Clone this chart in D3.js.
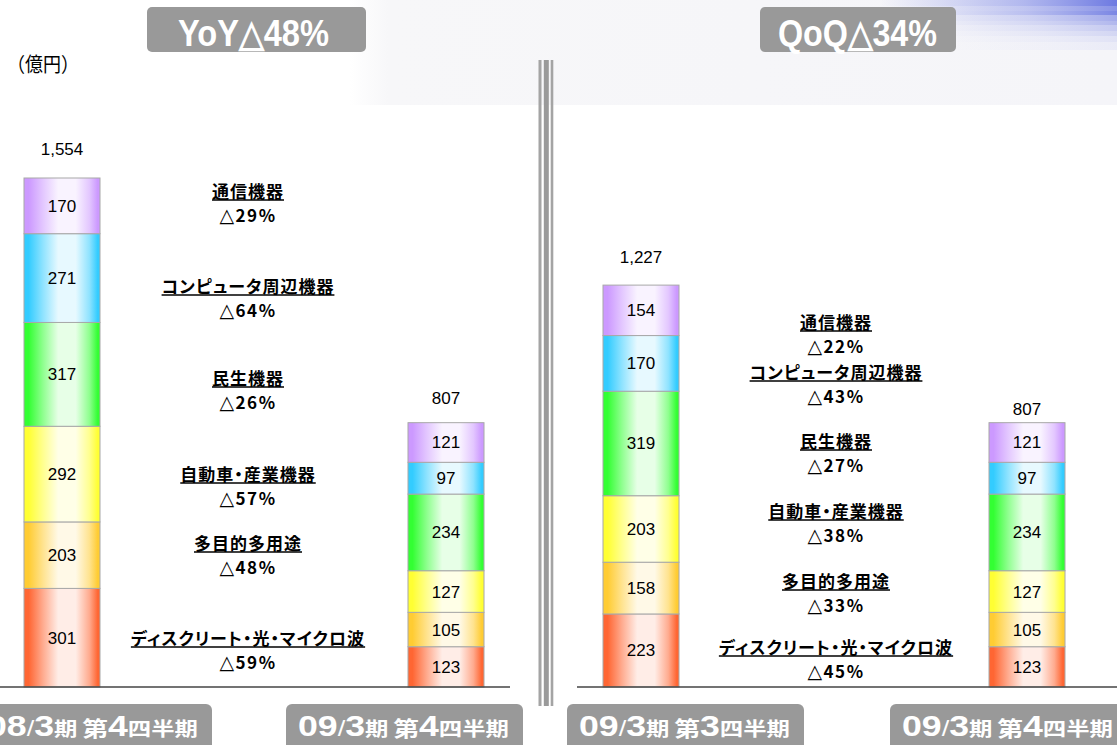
<!DOCTYPE html>
<html><head><meta charset="utf-8">
<script src="https://cdn.jsdelivr.net/npm/d3@7/dist/d3.min.js"></script>
<style>
html,body{margin:0;padding:0;background:#fff;overflow:hidden}
svg{display:block}
</style></head><body>
<svg id="chart" width="1117" height="745"></svg>
<script>
// ---------- DATA ----------
const categories = ["ディスクリート・光・マイクロ波","多目的多用途","自動車・産業機器","民生機器","コンピュータ周辺機器","通信機器"]; // bottom -> top
const periods = ["08/3期 第4四半期","09/3期 第4四半期","09/3期 第3四半期","09/3期 第4四半期"];
const q4FY08 = [301, 203, 292, 317, 271, 170];
const q4FY09 = [123, 105, 127, 234, 97, 121];
const q3FY09 = [223, 158, 203, 319, 170, 154];
const totals = [1554, 807, 1227, 807];
const yoyChange = ["△59%","△48%","△57%","△26%","△64%","△29%"];
const qoqChange = ["△45%","△33%","△38%","△27%","△43%","△22%"];
const headerLabels = ["YoY△48%","QoQ△34%"];
const unitLabel = "（億円）";

// ---------- STYLE / LAYOUT ----------
const colors = ["#ff6633","#ffcc33","#ffff33","#33ff33","#33ccff","#cc99ff"];
const W = 1117, H = 745;
const baseY = 687;
const barW = 76;
const JP = '"Noto Sans CJK JP","Noto Sans",sans-serif';
const LAT = '"Liberation Sans",Arial,sans-serif';
const totalOffsets = [23, 19, 22, 8];
const annoNameY = { left: [638, 543, 474, 378, 286, 191], right: [647, 581, 511, 441, 372, 322] };
const annoX = { left: 248, right: 836 };
const headerBoxes = [{x:147, w:219, tx:178, tw:151}, {x:760, w:196, tx:778, tw:159}];
const footerBoxes = [-25, 286, 567, 890];

const svg = d3.select("#chart");
const defs = svg.append("defs");

// background decorations
const bgG = defs.append("linearGradient").attr("id","bgfade").attr("x1",0).attr("x2",1).attr("y1",0).attr("y2",0);
bgG.append("stop").attr("offset",0).attr("stop-color","#f7f7f9").attr("stop-opacity",0);
bgG.append("stop").attr("offset",0.05).attr("stop-color","#f7f7f9").attr("stop-opacity",1);
bgG.append("stop").attr("offset",1).attr("stop-color","#f5f5f9").attr("stop-opacity",1);
svg.append("rect").attr("x",350).attr("y",0).attr("width",W-350).attr("height",105).attr("fill","url(#bgfade)");
const blueG = defs.append("linearGradient").attr("id","bluefade").attr("x1",0).attr("x2",1).attr("y1",0).attr("y2",0);
blueG.append("stop").attr("offset",0).attr("stop-color","#7b86e6").attr("stop-opacity",0);
blueG.append("stop").attr("offset",0.6).attr("stop-color","#7b86e6").attr("stop-opacity",0.55);
blueG.append("stop").attr("offset",1).attr("stop-color","#6673e0").attr("stop-opacity",0.95);
const streaks = [[0,6,1],[6,5,0.8],[11,4,0.9],[15,6,0.6],[21,4,0.5],[25,6,0.35],[31,5,0.25],[36,6,0.15],[42,8,0.08]];
streaks.forEach(([yy,h,o],i)=>{
  svg.append("rect").attr("x",880 + i*8).attr("y",yy).attr("width",W-880-i*8).attr("height",h)
    .attr("fill","url(#bluefade)").attr("opacity",o);
});

// gradients for segments
colors.forEach((c,j)=>{
  const light = d3.interpolateRgb(c,"#ffffff")(0.88);
  const mid = d3.interpolateRgb(c,"#ffffff")(0.45);
  const g = defs.append("linearGradient").attr("id","seg"+j).attr("x1",0).attr("x2",1).attr("y1",0).attr("y2",0);
  [[0,c],[0.06,c],[0.25,mid],[0.45,light],[0.68,light],[0.86,mid],[0.97,c],[1,c]].forEach(([o,col])=>
    g.append("stop").attr("offset",o).attr("stop-color",col));
});

// scales
const y = d3.scaleLinear().domain([0, 1554]).range([baseY, 178]);
const x = d3.scaleOrdinal().domain([0,1,2,3]).range([62, 446, 641, 1027]);

// stacked data
const barSeries = [q4FY08, q4FY09, q3FY09, q4FY09];
const table = barSeries.map((vals,i)=>{const o={bar:i}; categories.forEach((c,j)=>o[c]=vals[j]); return o;});
const stacked = d3.stack().keys(categories)(table);

const segG = svg.append("g");
stacked.forEach((layer,j)=>{
  segG.selectAll(null).data(layer).enter().append("rect")
    .attr("x", d=>x(d.data.bar)-barW/2)
    .attr("y", d=>y(d[1]))
    .attr("width", barW)
    .attr("height", d=>y(d[0])-y(d[1]))
    .attr("fill","url(#seg"+j+")")
    .attr("stroke","#a8a8a8").attr("stroke-width",1);
  segG.selectAll(null).data(layer).enter().append("text")
    .attr("x", d=>x(d.data.bar))
    .attr("y", d=>(y(d[0])+y(d[1]))/2 + 6)
    .attr("text-anchor","middle")
    .attr("font-family",LAT).attr("font-size",17).attr("fill","#000")
    .text(d=>d[1]-d[0]);
});

// totals
svg.selectAll(null).data(totals).enter().append("text")
  .attr("x",(d,i)=>x(i)).attr("y",(d,i)=>y(d)-totalOffsets[i])
  .attr("text-anchor","middle").attr("font-family",LAT).attr("font-size",17).attr("fill","#000")
  .text(d=>d3.format(",")(d));

// axis baselines
svg.append("line").attr("x1",0).attr("x2",510).attr("y1",baseY).attr("y2",baseY).attr("stroke","#444").attr("stroke-width",1.5);
svg.append("line").attr("x1",577).attr("x2",W).attr("y1",baseY).attr("y2",baseY).attr("stroke","#444").attr("stroke-width",1.5);

// separator
[[540,3,"#a4a4a4"],[546.3,5,"#9a9a9a"],[552,2.6,"#a4a4a4"]].forEach(([cx,w,c])=>
  svg.append("rect").attr("x",cx-w/2).attr("y",60).attr("width",w).attr("height",646).attr("fill",c));

// unit label
const ul = svg.append("text").attr("x",0).attr("y",0).attr("font-family",JP).attr("font-size",20).attr("fill","#000").text(unitLabel);
const ubb = ul.node().getBBox();
ul.attr("transform",`translate(${7 - ubb.x*(72/ubb.width)},72) scale(${72/ubb.width},1)`);

// headers
headerLabels.forEach((t,i)=>{
  const b = headerBoxes[i];
  svg.append("rect").attr("x",b.x).attr("y",7).attr("width",b.w).attr("height",45).attr("rx",5).attr("fill","#999999");
  svg.append("text").attr("x",b.tx).attr("y",46).attr("font-family",LAT).attr("font-weight","bold")
    .attr("font-size",37).attr("fill","#fff").attr("textLength",b.tw).attr("lengthAdjust","spacingAndGlyphs").text(t);
});

// annotations
function annotate(side, changes){
  categories.forEach((c,j)=>{
    const cy = annoNameY[side][j];
    const t = svg.append("text").attr("x",annoX[side]).attr("y",cy+6.5)
      .attr("text-anchor","middle").attr("font-family",JP).attr("font-weight","bold")
      .attr("font-size",17).attr("letter-spacing",1).style("font-feature-settings",'"palt"')
      .attr("fill","#000").text(c);
    const bb = t.node().getBBox();
    svg.append("line").attr("x1",bb.x).attr("x2",bb.x+bb.width).attr("y1",cy+9).attr("y2",cy+9)
      .attr("stroke","#000").attr("stroke-width",1.5);
    const p = svg.append("text").attr("x",annoX[side]).attr("y",cy+24+6.5)
      .attr("text-anchor","middle").attr("font-weight","bold")
      .attr("font-size",17).attr("letter-spacing",1.5).attr("fill","#000");
    p.append("tspan").attr("font-family",'"DejaVu Sans",sans-serif').attr("font-size",19).text(changes[j].slice(0,1));
    p.append("tspan").attr("font-family",JP).text(changes[j].slice(1));
  });
}
annotate("left", yoyChange);
annotate("right", qoqChange);

// footer period boxes
periods.forEach((p,i)=>{
  const bx = footerBoxes[i];
  svg.append("rect").attr("x",bx).attr("y",704).attr("width",237).attr("height",50).attr("rx",6).attr("fill","#999999");
  const m = p.match(/^(\d+)\/(\d+)(期) (第)(\d)(四半期)$/);
  const t = svg.append("text").attr("x",bx+12).attr("y",736).attr("fill","#fff").attr("font-weight","bold");
  const parts = [[m[1],LAT,29,"bold"],["/",LAT,22,"normal"],[m[2],LAT,29,"bold"],[m[3],JP,19,"bold"],[" ",LAT,14,"bold"],
                 [m[4],JP,21,"bold"],[m[5],LAT,29,"bold"],[m[6],JP,19,"bold"]];
  parts.forEach(([s,f,fs,fw])=>t.append("tspan").attr("font-family",f).attr("font-size",fs).attr("font-weight",fw).text(s));
  const w = t.node().getComputedTextLength();
  const sx = 211 / w;
  t.attr("transform",`translate(${bx+12},0) scale(${sx},1) translate(${-(bx+12)},0)`);
});
</script>
</body></html>
